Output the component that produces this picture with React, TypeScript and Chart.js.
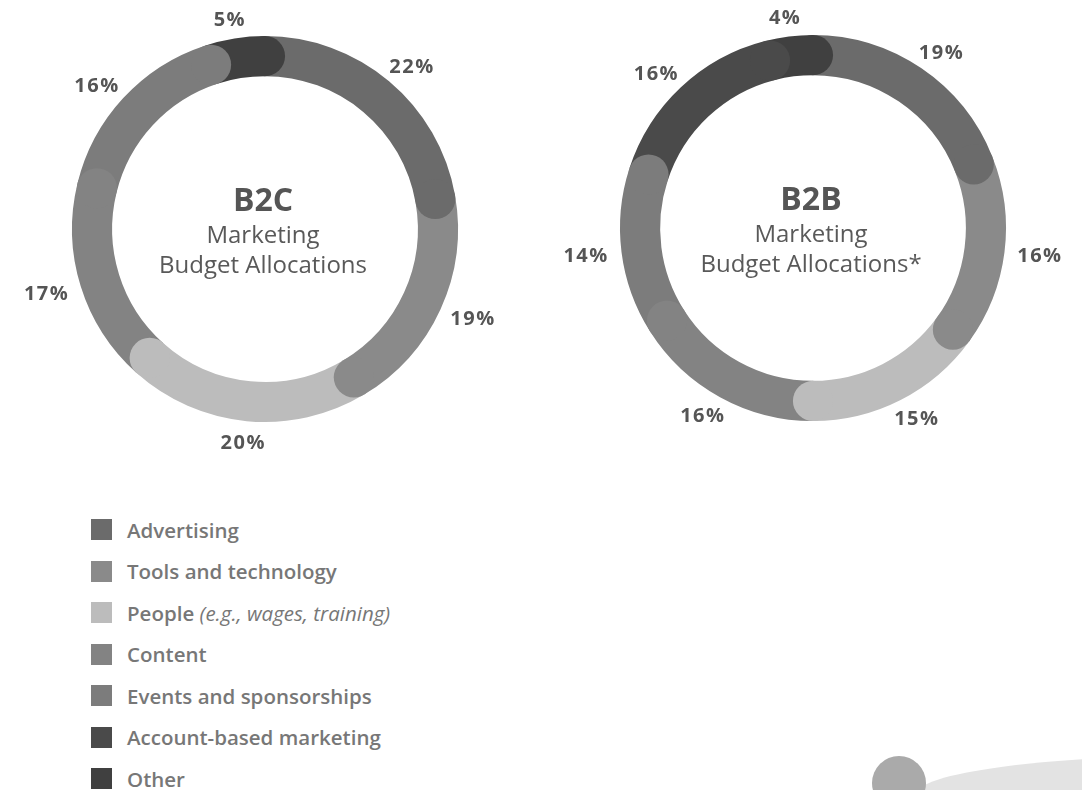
import React, { useEffect, useRef } from 'react';
import { Chart, registerables } from 'chart.js';

Chart.register(...registerables);

// ---- data ----
const categories = [
  'Advertising',
  'Tools and technology',
  'People',
  'Content',
  'Events and sponsorships',
  'Account-based marketing',
  'Other',
];
const colors = ['#6b6b6b', '#8a8a8a', '#bcbcbc', '#838383', '#7c7c7c', '#4a4a4a', '#404040'];
const b2cValues = [22, 19, 20, 17, 16, 0, 5];
const b2bValues = [19, 16, 15, 16, 14, 16, 4];
const b2cTitle = ['B2C', 'Marketing', 'Budget Allocations'];
const b2bTitle = ['B2B', 'Marketing', 'Budget Allocations*'];

const FONT = '"Open Sans", "Noto Sans", sans-serif';

const capsPlugin = {
  id: 'roundCaps',
  afterDatasetsDraw(chart: any) {
    const meta = chart.getDatasetMeta(0);
    const ds = chart.data.datasets[0];
    const ctx = chart.ctx;
    ctx.save();
    meta.data.forEach((el: any, i: number) => {
      if (!ds.data[i]) return;
      const p = el.getProps(['x', 'y', 'endAngle', 'innerRadius', 'outerRadius'], true);
      const rm = (p.innerRadius + p.outerRadius) / 2;
      const rc = (p.outerRadius - p.innerRadius) / 2;
      ctx.beginPath();
      ctx.arc(p.x + Math.cos(p.endAngle) * rm, p.y + Math.sin(p.endAngle) * rm, rc, 0, Math.PI * 2);
      ctx.fillStyle = ds.backgroundColor[i];
      ctx.fill();
    });
    ctx.restore();
  },
};

const labelPlugin = {
  id: 'pctLabels',
  afterDraw(chart: any) {
    const meta = chart.getDatasetMeta(0);
    const ds = chart.data.datasets[0];
    const ctx = chart.ctx;
    ctx.save();
    ctx.font = `bold 20px ${FONT}`;
    try { (ctx as any).letterSpacing = '1.5px'; } catch (e) {}
    ctx.fillStyle = '#555555';
    ctx.textAlign = 'center';
    ctx.textBaseline = 'alphabetic';
    const capH = 14.5;
    const gap = 13;
    meta.data.forEach((el: any, i: number) => {
      const v = ds.data[i];
      if (!v) return;
      const p = el.getProps(['x', 'y', 'startAngle', 'endAngle', 'outerRadius'], true);
      const a = (p.startAngle + p.endAngle) / 2;
      const dx = Math.cos(a), dy = Math.sin(a);
      const text = `${v}%`;
      const w = ctx.measureText(text).width;
      const px = p.x + dx * (p.outerRadius + gap) + dx * (w / 2);
      const py = p.y + dy * (p.outerRadius + gap) + dy * (capH / 2);
      ctx.fillText(text, px, py + capH / 2);
    });
    ctx.restore();
  },
};

function centerPlugin(lines: string[]) {
  return {
    id: 'centerText',
    afterDraw(chart: any) {
      const el = chart.getDatasetMeta(0).data[0];
      if (!el) return;
      const ctx = chart.ctx;
      const cx = el.x, cy = el.y;
      ctx.save();
      ctx.textAlign = 'center';
      ctx.textBaseline = 'alphabetic';
      ctx.fillStyle = '#555555';
      ctx.font = `bold 32px ${FONT}`;
      ctx.fillText(lines[0], cx - 2, cy - 18);
      ctx.fillStyle = '#595959';
      ctx.font = `24px ${FONT}`;
      ctx.fillText(lines[1], cx - 2, cy + 14);
      ctx.fillText(lines[2], cx - 2, cy + 44);
      ctx.restore();
    },
  };
}

function Donut({ values, title, left, top }: { values: number[]; title: string[]; left: number; top: number }) {
  const ref = useRef<HTMLCanvasElement | null>(null);
  useEffect(() => {
    if (!ref.current) return;
    const chart = new Chart(ref.current, {
      type: 'doughnut',
      data: {
        labels: categories,
        datasets: [
          {
            data: values,
            backgroundColor: colors,
            borderWidth: 0,
            hoverOffset: 0,
          },
        ],
      },
      options: {
        responsive: false,
        animation: false,
        devicePixelRatio: 1,
        cutout: '79.2%',
        rotation: 0,
        circumference: 360,
        layout: { padding: 67 },
        events: [],
        plugins: {
          legend: { display: false },
          tooltip: { enabled: false },
        },
      } as any,
      plugins: [capsPlugin, labelPlugin, centerPlugin(title)],
    });
    return () => chart.destroy();
  }, []);
  return (
    <canvas
      ref={ref}
      width={520}
      height={520}
      style={{ position: 'absolute', left, top, width: 520, height: 520 }}
    />
  );
}

export default function App() {
  return (
    <div
      style={{
        position: 'absolute',
        left: 0,
        top: 0,
        width: 1082,
        height: 790,
        overflow: 'hidden',
        background: '#ffffff',
        fontFamily: FONT,
      }}
    >
      <Donut values={b2cValues} title={b2cTitle} left={4.5} top={-31.5} />
      <Donut values={b2bValues} title={b2bTitle} left={552.5} top={-32} />

      <div style={{ position: 'absolute', left: 91, top: 509, color: '#777777', fontSize: 20.5, fontWeight: 600 }}>
        {categories.map((c, i) => (
          <div key={c} style={{ display: 'flex', alignItems: 'center', height: 41.5, whiteSpace: 'nowrap' }}>
            <span style={{ display: 'inline-block', width: 21, height: 21, background: colors[i], marginRight: 15 }} />
            <span>
              {c}
              {c === 'People' ? (
                <span style={{ fontStyle: 'italic', fontWeight: 400 }}> (e.g., wages, training)</span>
              ) : null}
            </span>
          </div>
        ))}
      </div>

      <div
        style={{
          position: 'absolute',
          left: 915,
          top: 755,
          width: 600,
          height: 80,
          borderRadius: '50%',
          background: '#e3e3e3',
        }}
      />
      <div
        style={{
          position: 'absolute',
          left: 872,
          top: 756,
          width: 54,
          height: 54,
          borderRadius: '50%',
          background: '#aaaaaa',
        }}
      />
    </div>
  );
}
